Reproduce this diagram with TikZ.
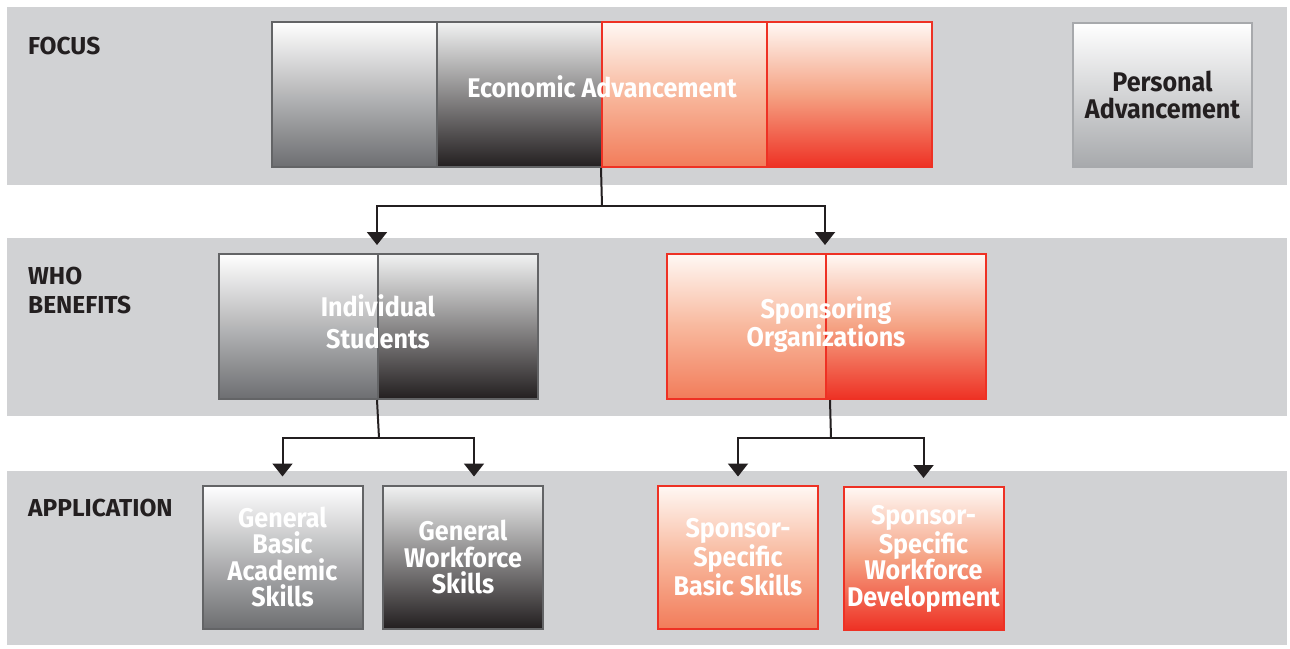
\documentclass[tikz,border=0pt]{standalone}
\usepackage{fontspec}
\setsansfont{Fira Sans}
\newfontfamily\narrowfont{Fira Sans}[FakeStretch = 0.93]
\usepackage{tikz}
\usetikzlibrary{arrows.meta}

\definecolor{band}{HTML}{D1D2D4}
\definecolor{boxline}{HTML}{636466}
\definecolor{redline}{HTML}{EE3124}
\definecolor{textdark}{HTML}{231F20}
\definecolor{greylow}{HTML}{6D6E71}
\definecolor{darktop}{HTML}{F1F2F2}
\definecolor{darklow}{HTML}{231F20}
\definecolor{paletop}{HTML}{FFF8F4}
\definecolor{palemid}{HTML}{F8B89D}
\definecolor{palelow}{HTML}{F27C5A}
\definecolor{redtop}{HTML}{FFF8F4}
\definecolor{redmid}{HTML}{F5A283}
\definecolor{redlow}{HTML}{EE3124}
\definecolor{perslow}{HTML}{A7A9AC}

\begin{document}
\begin{tikzpicture}[x = 1pt, y = -1pt,
  box/.style = {rectangle, minimum width = 160pt, minimum height = 143pt, line width = 2pt, inner sep = 0pt},
  greybox/.style = {box, draw = boxline, top color = white, bottom color = greylow},
  darkbox/.style = {box, draw = boxline, top color = darktop, bottom color = darklow},
  paleredbox/.style = {box, draw = redline, top color = paletop, bottom color = palelow, middle color = palemid},
  redbox/.style = {box, draw = redline, top color = redtop, bottom color = redlow, middle color = redmid},
  boxtext/.style = {text = white, align = center, font = \narrowfont\bfseries\fontsize{27}{26.5}\selectfont},
  rowname/.style = {anchor = west, inner sep = 0pt, align = left, text = textdark, font = \sffamily\bfseries\fontsize{24.5}{29}\selectfont},
  link/.style = {line width = 2pt, draw = textdark},
  arr/.style = {link, -{Triangle[width = 20pt, length = 13pt]}, shorten >= 8pt}]
\useasboundingbox [fill = white] (0, 0) rectangle (1290, 648);
%\draw[very thin, color = gray](0, 0) grid [step = 50] (1290, 648);
\fill [band] (7, 7) rectangle (1287, 185);
\fill [band] (7, 238) rectangle (1287, 416);
\fill [band] (7, 471) rectangle (1287, 645);
\node [rowname] (focus) at (28, 46) {FOCUS};
\node [rowname] (who) at (28, 290.5) {WHO\\BENEFITS};
\node [rowname] (appl) at (28, 508) {APPLICATION};
% focus
\node [greybox, minimum width = 165pt, minimum height = 145pt] (econA) at (354.5, 94.5) {};
\node [darkbox, minimum width = 165pt, minimum height = 145pt] (econB) at (519.5, 94.5) {};
\node [paleredbox, minimum width = 165pt, minimum height = 145pt] (econC) at (684.5, 94.5) {};
\node [redbox, minimum width = 165pt, minimum height = 145pt] (econD) at (849.5, 94.5) {};
\node [boxtext] (econ) at (602, 87) {Economic Advancement};
\node [box, draw = perslow, top color = white, bottom color = perslow, minimum width = 179pt, minimum height = 144pt, boxtext, text = textdark] (pers) at (1162.5, 95) {Personal\\Advancement};
% who benefits
\node [greybox, minimum width = 159pt, minimum height = 145pt] (indL) at (298.5, 326.5) {};
\node [darkbox, minimum width = 160pt, minimum height = 145pt] (indR) at (458, 326.5) {};
\node [boxtext] (indiv) at (378, 322) {Individual\\[5.5pt]Students};
\node [paleredbox, minimum width = 159pt, minimum height = 145pt] (sponsL) at (746.5, 326.5) {};
\node [redbox, minimum width = 160pt, minimum height = 145pt] (sponsR) at (906, 326.5) {};
\node [boxtext, font = \narrowfont\bfseries\fontsize{27}{25}\selectfont] (spons) at (826, 324.5) {Sponsoring\\Organizations};
% application
\node [greybox, boxtext] (gbas) at (282.5, 557) {General\\Basic\\Academic\\Skills};
\node [darkbox, boxtext] (gwork) at (463, 557) {General\\Workforce\\Skills};
\node [paleredbox, boxtext] (ssbas) at (738, 557) {Sponsor-\\Specific\\Basic Skills};
\node [redbox, boxtext] (sswork) at (923.5, 558.5) {Sponsor-\\Specific\\Workforce\\Development};
% connectors
\coordinate (fork1) at (602, 206);
\coordinate (fork2) at (379, 438);
\coordinate (fork3) at (831, 438);
\draw [link] (econC.south west) -- (fork1);
\draw [arr] (fork1) -| (indR.north west);
\draw [arr] (fork1) -| (sponsR.north west);
\draw [link] (indR.south west) -- (fork2);
\draw [arr] (fork2) -| (gbas.north);
\draw [arr] (fork2) -| ([xshift = 11pt]gwork.north);
\draw [link] ([xshift = 5pt]sponsR.south west) -- (fork3);
\draw [arr] (fork3) -| (ssbas.north);
\draw [arr] (fork3) -| (sswork.north);
\end{tikzpicture}
\end{document}
